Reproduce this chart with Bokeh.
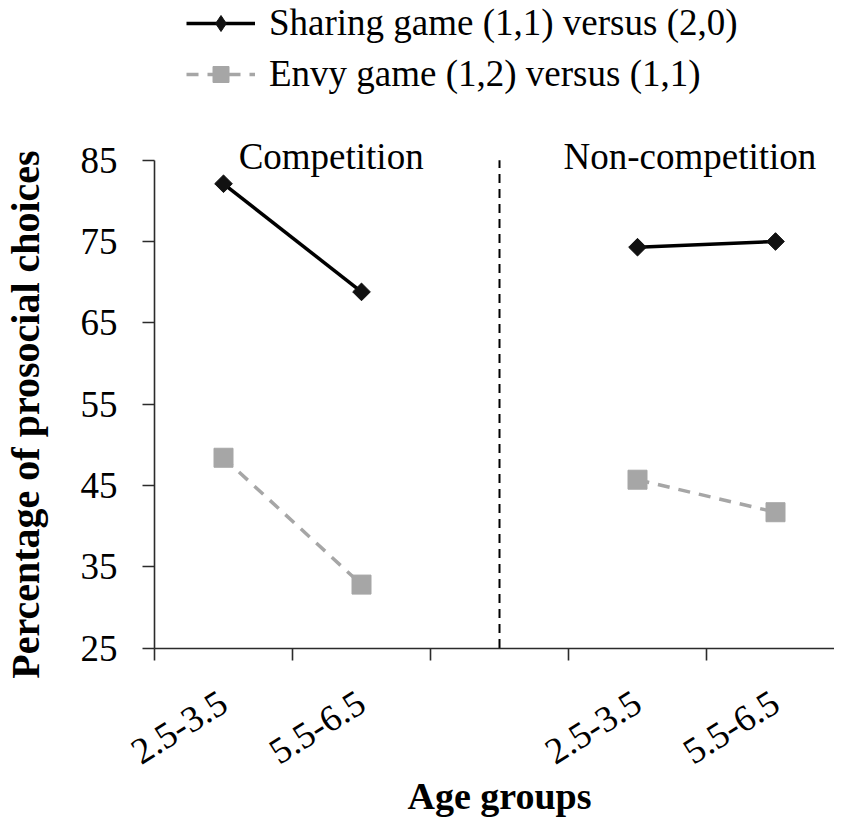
import math
from bokeh.plotting import figure
from bokeh.models import (Range1d, LinearAxis, FixedTicker, Label, Legend, LegendItem)
from bokeh.embed import file_html
from bokeh.resources import INLINE

# ---- data -------------------------------------------------------------
groups = ["Competition", "Non-competition"]
ages = ["2.5-3.5", "5.5-6.5"]
sharing = [82.1, 68.8, 74.3, 75.0]      # per (group, age)
envy = [48.4, 32.8, 45.7, 41.7]
y_ticks = [25, 35, 45, 55, 65, 75, 85]
series_names = ["Sharing game (1,1) versus (2,0)", "Envy game (1,2) versus (1,1)"]
x_title = "Age groups"
y_title = "Percentage of prosocial choices"

FONT = "Liberation Serif"
GAP = 1  # one empty category slot between the two conditions

# category slots: 2 ages, gap, 2 ages
n_slots = len(groups) * len(ages) + (len(groups) - 1) * GAP
centers = [gi * (len(ages) + GAP) + ai + 0.5 for gi in range(len(groups)) for ai in range(len(ages))]
boundaries = list(range(n_slots + 1))
tick_labels = {c: ages[i % len(ages)] for i, c in enumerate(centers)}
gap_center = len(ages) + GAP / 2

# ---- layout (pixels) ----------------------------------------------------
W, H = 834, 819
LEFT = 154                     # pixel of the value axis (x = 0)
PPX = 138                      # pixels per category slot
PX_TOP, PX_BOT = 159.7, 647.5  # pixels of y = 85 and y = 25
ppu = (PX_BOT - PX_TOP) / (y_ticks[-1] - y_ticks[0])
x_lo, x_hi = -LEFT / PPX, (W - LEFT) / PPX
y_lo = y_ticks[0] - (H - PX_BOT) / ppu
y_hi = y_ticks[-1] + PX_TOP / ppu

p = figure(width=W, height=H, output_backend="svg", toolbar_location=None,
           x_range=Range1d(x_lo, x_hi), y_range=Range1d(y_lo, y_hi),
           x_axis_location=None, y_axis_location=None,
           min_border_left=0, min_border_right=0, min_border_top=0, min_border_bottom=0)
p.outline_line_color = None
p.grid.visible = False
p.background_fill_color = "white"
p.border_fill_color = "white"

AX = "#2b2b2b"
# ---- y axis -----------------------------------------------------------
yax = LinearAxis(ticker=FixedTicker(ticks=y_ticks), bounds=(y_ticks[0], y_ticks[-1]),
                 fixed_location=0)
yax.axis_line_color = AX
yax.axis_line_width = 1.6
yax.major_tick_line_color = AX
yax.major_tick_line_width = 1.6
yax.major_tick_out = 12
yax.major_tick_in = 0
yax.minor_tick_out = 0
yax.minor_tick_in = 0
yax.major_label_standoff = 25
yax.major_label_text_font = FONT
yax.major_label_text_font_size = "37px"
yax.major_label_text_color = "black"
p.add_layout(yax, "left")

# ---- x axis (labels at category centres, ticks at boundaries) ---------
xax = LinearAxis(ticker=FixedTicker(ticks=centers, minor_ticks=boundaries),
                 major_label_overrides=tick_labels, fixed_location=y_ticks[0],
                 bounds=(0, n_slots))
xax.axis_line_color = AX
xax.axis_line_width = 1.6
xax.major_tick_out = 0
xax.major_tick_in = 0
xax.minor_tick_out = 12
xax.minor_tick_in = 0
xax.minor_tick_line_color = AX
xax.minor_tick_line_width = 1.6
xax.major_label_orientation = math.radians(32)
xax.major_label_standoff = 39
xax.major_label_text_font = FONT
xax.major_label_text_font_size = "37px"
xax.major_label_text_color = "black"
p.add_layout(xax, "below")

# ---- axis titles --------------------------------------------------------
p.add_layout(Label(x=n_slots / 2, y=y_ticks[0], y_offset=-148, text=x_title,
                   text_align="center", text_baseline="alphabetic",
                   text_font=FONT, text_font_size="38px", text_font_style="bold",
                   text_color="black"))
p.add_layout(Label(x=0, x_offset=-129, y=y_hi - 414 / ppu, text=y_title,
                   angle=math.pi / 2, text_align="center", text_baseline="alphabetic",
                   text_font=FONT, text_font_size="40px", text_font_style="bold",
                   text_color="black"))

# ---- divider between the two conditions -------------------------------
p.segment(x0=[gap_center], y0=[y_ticks[0]], x1=[gap_center], y1=[y_ticks[-1]],
          line_color="black", line_width=2, line_dash="9 6")

# ---- series -----------------------------------------------------------
def split(vals):
    xs, ys = [], []
    k = len(ages)
    for gi in range(len(groups)):
        xs.append(centers[gi * k:(gi + 1) * k])
        ys.append(vals[gi * k:(gi + 1) * k])
    return xs, ys

GRAY = "#a6a6a6"
xs, ys = split(envy)
en_line = p.multi_line(xs, ys, line_color=GRAY, line_width=3.5, line_dash="12 9")
en_sq = p.scatter(centers, envy, marker="square", size=19,
                  fill_color=GRAY, line_color=GRAY)

xs, ys = split(sharing)
sh_line = p.multi_line(xs, ys, line_color="black", line_width=3.5)
sh_leg = p.scatter(centers, sharing, marker="diamond", size=16,
                   fill_color="#111111", line_color="#111111")
sh_pt = p.scatter(centers, sharing, marker="square", angle=math.pi / 4, size=12.5,
                  fill_color="#111111", line_color="#111111")

legend = Legend(items=[LegendItem(label=series_names[0], renderers=[sh_line, sh_leg]),
                       LegendItem(label=series_names[1], renderers=[en_line, en_sq])],
                location=(186, H - 95), orientation="vertical",
                glyph_width=69, glyph_height=40, label_standoff=14, spacing=8,
                padding=0, margin=0, border_line_color=None,
                background_fill_alpha=0,
                label_text_font=FONT, label_text_font_size="37px",
                label_text_color="black")
p.add_layout(legend, "center")

# ---- condition headings ----------------------------------------------
for txt, xpos in [(groups[0], 1.28), (groups[1], 3.88)]:
    p.add_layout(Label(x=xpos, y=y_ticks[-1], y_offset=4, text=txt,
                       text_align="center", text_baseline="alphabetic",
                       text_font=FONT, text_font_size="37px", text_color="black"))

open("out.html", "w").write(file_html(p, INLINE))
